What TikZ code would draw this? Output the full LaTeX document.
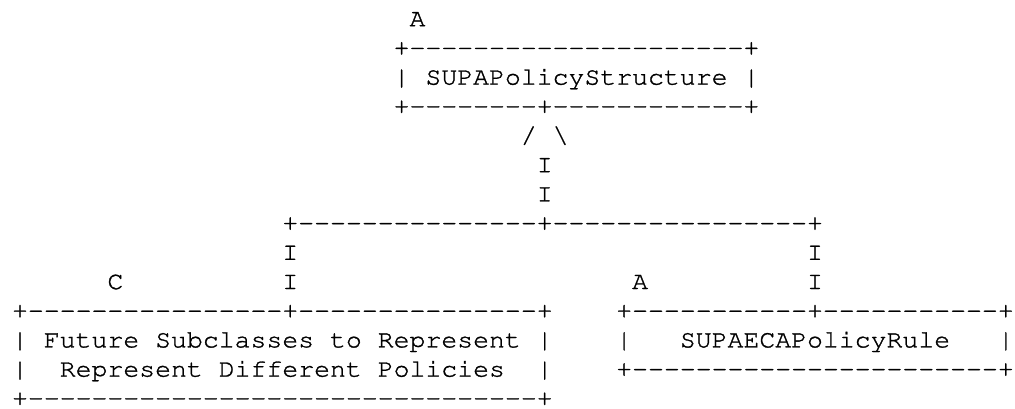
\documentclass[tikz,border=0pt]{standalone}
\usepackage[T1]{fontenc}
\usepackage{graphicx}
\tikzset{
  t/.style={inner sep=0pt, outer sep=0pt, anchor=base west,
    font=\fontfamily{pcr}\fontsize{25}{30}\selectfont, text=black}
}
\newcommand\colx[1]{12.05+15.9*#1}
\newcommand\rowy[1]{-26.2-29.2*#1}
\newcommand\dashes[1]{\foreach\k in {1,...,#1}{-\kern0pt}}
\newcommand\st[1]{\special{pdf:literal direct 2 Tr 0.28 w}\scalebox{1.06}[1]{#1}\special{pdf:literal direct 0 Tr}}
\begin{document}
\begin{tikzpicture}[x=1pt,y=1pt]
\useasboundingbox (0,-408) rectangle (1015,0);
% top class
\node[t] (a0) at ({\colx{25}},{\rowy{0}}) {\st{A}};
\node[t] (top1) at ({\colx{24}},{\rowy{1}}) {\st{+\dashes{21}+}};
\node[t] (topL) at ({\colx{24}},{\rowy{2}}) {\st{|}};
\node[t] (sps) at ({\colx{26}},{\rowy{2}}) {\st{SUPAPolicyStructure}};
\node[t] (topR) at ({\colx{46}},{\rowy{2}}) {\st{|}};
\node[t] (top3) at ({\colx{24}},{\rowy{3}}) {\st{+\dashes{8}+\dashes{12}+}};
% inheritance arrow
\node[t] (sl) at ({\colx{32}},{\rowy{4}}) {\st{/}};
\node[t] (bs) at ({\colx{34}},{\rowy{4}}) {\st{\textbackslash}};
\node[t] (i5) at ({\colx{33}},{\rowy{5}}) {\st{I}};
\node[t] (i6) at ({\colx{33}},{\rowy{6}}) {\st{I}};
\node[t] (bar7) at ({\colx{17}},{\rowy{7}}) {\st{+\dashes{15}+\dashes{16}+}};
\node[t] (i8l) at ({\colx{17}},{\rowy{8}}) {\st{I}};
\node[t] (i8r) at ({\colx{50}},{\rowy{8}}) {\st{I}};
\node[t] (c9) at ({\colx{6}},{\rowy{9}}) {\st{C}};
\node[t] (i9l) at ({\colx{17}},{\rowy{9}}) {\st{I}};
\node[t] (a9) at ({\colx{39}},{\rowy{9}}) {\st{A}};
\node[t] (i9r) at ({\colx{50}},{\rowy{9}}) {\st{I}};
% left box
\node[t] (l10) at ({\colx{0}},{\rowy{10}}) {\st{+\dashes{16}+\dashes{15}+}};
\node[t] (l11a) at ({\colx{0}},{\rowy{11}}) {\st{|}};
\node[t] (fut) at ({\colx{2}},{\rowy{11}}) {\st{Future Subclasses to Represent}};
\node[t] (l11b) at ({\colx{33}},{\rowy{11}}) {\st{|}};
\node[t] (l12a) at ({\colx{0}},{\rowy{12}}) {\st{|}};
\node[t] (rep) at ({\colx{3}},{\rowy{12}}) {\st{Represent Different Policies}};
\node[t] (l12b) at ({\colx{33}},{\rowy{12}}) {\st{|}};
\node[t] (l13) at ({\colx{0}},{\rowy{13}}) {\st{+\dashes{32}+}};
% right box
\node[t] (r10) at ({\colx{38}},{\rowy{10}}) {\st{+\dashes{11}+\dashes{11}+}};
\node[t] (r11a) at ({\colx{38}},{\rowy{11}}) {\st{|}};
\node[t] (eca) at ({\colx{42}},{\rowy{11}}) {\st{SUPAECAPolicyRule}};
\node[t] (r11b) at ({\colx{62}},{\rowy{11}}) {\st{|}};
\node[t] (r12) at ({\colx{38}},{\rowy{12}}) {\st{+\dashes{23}+}};
\end{tikzpicture}
\end{document}
